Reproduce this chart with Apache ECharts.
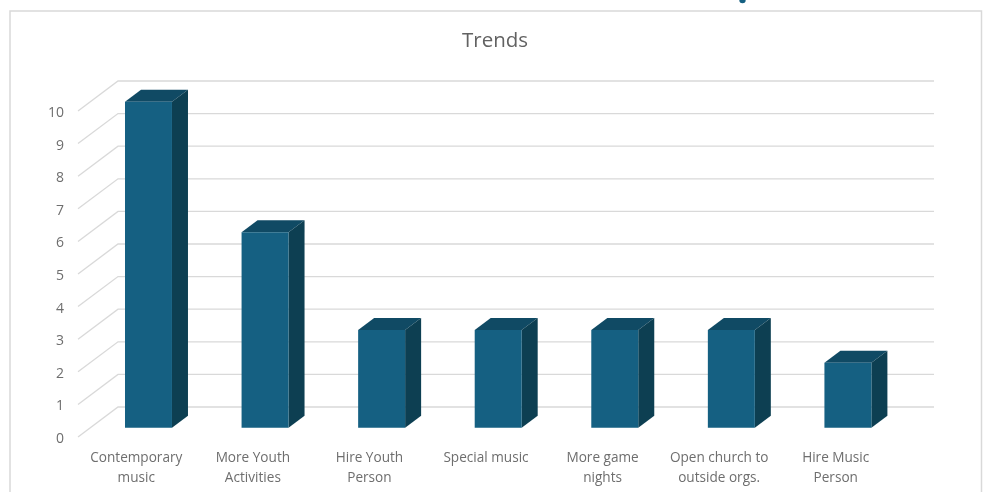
<!DOCTYPE html>
<html>
<head>
<meta charset="utf-8">
<style>html,body{margin:0;padding:0;background:#fff}#c{width:983px;height:492px}</style>
<script src="https://cdn.jsdelivr.net/npm/echarts@6/dist/echarts.min.js"></script>
</head>
<body>
<div id="c"></div>
<script>
const categories = ["Contemporary\nmusic","More Youth\nActivities","Hire Youth\nPerson","Special music","More game\nnights","Open church to\noutside orgs.","Hire Music\nPerson"];
const values = [10,6,3,3,3,3,2];
const yTicks = [0,1,2,3,4,5,6,7,8,9,10];
const titleText = "Trends";

const DX = 40, DY = -30;         // oblique depth of the chart box
const T0 = 0.305, T1 = 0.705;    // bar depth range inside the box
const BAR_RATIO = 0.403;
const FONT = "Open Sans";

const chart = echarts.init(document.getElementById('c'), null, {renderer:'canvas'});

function wallItem(params, api){
  const cs = params.coordSys;
  const y = api.coord([0, api.value(1)])[1];
  return {type:'polyline', silent:true,
    shape:{points:[[cs.x,y],[cs.x+DX,y+DY],[cs.x+cs.width+DX,y+DY]]},
    style:{stroke:'#d9d9d9',lineWidth:1.3,fill:null}};
}
function barItem(params, api){
  const c = api.coord([api.value(0), api.value(1)]);
  const base = api.coord([api.value(0), 0]);
  const w = api.size([1,0])[0]*BAR_RATIO;
  const x0 = c[0]-w/2+DX*T0, x1 = x0+w;
  const yt = c[1]+DY*T0, yb = base[1]+DY*T0;
  const ox = DX*(T1-T0), oy = DY*(T1-T0);
  return {type:'group', silent:true, children:[
    {type:'polygon', shape:{points:[[x0,yt],[x1,yt],[x1+ox,yt+oy],[x0+ox,yt+oy]]},
      style:{fill:'#104a64'}},
    {type:'polygon', shape:{points:[[x1,yt],[x1+ox,yt+oy],[x1+ox,yb+oy],[x1,yb]]},
      style:{fill:'#0d3f52'}},
    {type:'rect', shape:{x:x0,y:yt,width:w,height:yb-yt},
      style:{fill:'#156082'}}
  ]};
}

chart.setOption({
  animation:false,
  backgroundColor:'#ffffff',
  title:{text:titleText,left:490,top:26,textAlign:'center',
    textStyle:{fontFamily:FONT,fontSize:20.5,fontWeight:'normal',color:'#626262'}},
  grid:{left:78,right:89,top:111,height:326,containLabel:false},
  xAxis:{type:'category',data:categories,
    axisLine:{show:false},axisTick:{show:false},splitLine:{show:false},
    axisLabel:{interval:0,margin:11,fontFamily:FONT,fontSize:13.6,lineHeight:20,color:'#6e6e6e',verticalAlign:'top'}},
  yAxis:{type:'value',min:0,max:10,interval:1,
    axisLine:{show:false},axisTick:{show:false},splitLine:{show:false},
    axisLabel:{margin:14,fontFamily:FONT,fontSize:14,color:'#6e6e6e',verticalAlign:'top',lineHeight:4,
      formatter:v=>String(v)}},
  graphic:[
    {type:'rect',z:-10,silent:true,
      shape:{x:10,y:11,width:971.5,height:500},
      style:{fill:'#fff',stroke:'#d9d9d9',lineWidth:1.5}},
    {type:'circle',z:-9,silent:true,
      shape:{cx:742.5,cy:0,r:3.2},
      style:{fill:'#156082'}}
  ],
  series:[
    {type:'custom',name:'wall',renderItem:wallItem,data:yTicks.map(v=>[0,v]),z:1,clip:false,silent:true},
    {type:'custom',name:'Trends',renderItem:barItem,data:values.map((v,i)=>[i,v]),z:2,clip:false,silent:true}
  ]
});
</script>
</body>
</html>
